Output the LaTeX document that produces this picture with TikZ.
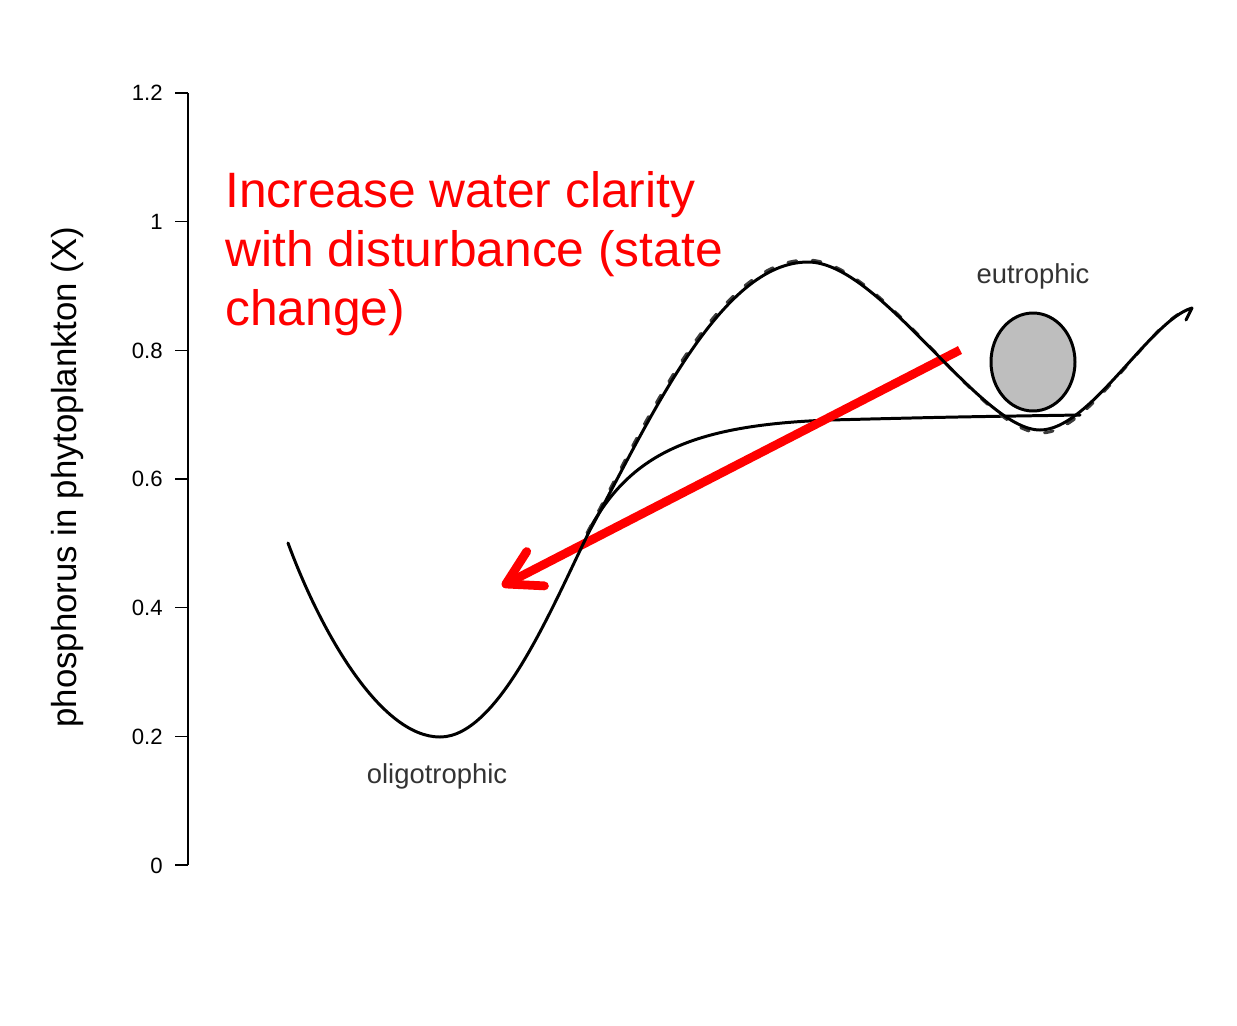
\documentclass[tikz,border=0pt]{standalone}
\usepackage{fontspec}
\setmainfont{Liberation Sans}
\usetikzlibrary{arrows.meta}
\definecolor{ballgray}{RGB}{190,190,190}
\definecolor{dashgray}{RGB}{60,60,60}
\definecolor{arrowred}{RGB}{255,0,0}
\begin{document}
\begin{tikzpicture}[x=0.02cm, y=-0.02cm,
  curve/.style={line width=1.7pt, line cap=round, line join=round},
  ticklab/.style={anchor=base east, inner sep=0pt, font=\fontsize{12.6}{15}\selectfont},
  statelab/.style={anchor=base, inner sep=0pt, text=black!80, font=\fontsize{15.6}{18}\selectfont},
  redarrow/.style={arrowred, line width=5pt,
    -{Straight Barb[length=19pt, width=22pt, line cap=round, line join=round]}}]
  \useasboundingbox (0,0) rectangle (1237,1025);
  % eje vertical con marcas
  \draw[line width=0.9pt] (188,93) -- (188,865);
  \foreach \v [count=\i from 0] in {0,0.2,0.4,0.6,0.8,1,1.2} {
    \draw[line width=0.9pt] (175,{865-128.67*\i}) -- (188,{865-128.67*\i});
    \node[ticklab] (t\i) at (163,{873-128.67*\i}) {\v};
  }
  \node[rotate=90, inner sep=0pt, font=\fontsize{19.8}{23}\selectfont] (ylab) at (68,477)
    {phosphorus in phytoplankton (X)};
  % curva que se aplana
  \draw[curve] (589,530) .. controls (630,455) and (690,425) .. (830,420)
    .. controls (950,417) .. (1080,415);
  % flecha roja
  \coordinate (from) at (960,350);
  \coordinate (to) at (502,586);
  \draw[redarrow] (from) -- (to);
  % curva discontinua
  \draw[curve, dashgray, dash pattern=on 5pt off 9pt]
    (587,533) .. controls (647,421) and (718,260) .. (807,260)
    .. controls (882,260) and (981,433) .. (1041,433)
    .. controls (1090,433) and (1149,321) .. (1189,309);
  % curva principal
  \draw[curve] (288,543) .. controls (320,630) and (380,737) .. (440,737)
    .. controls (500,737) and (555,600) .. (590,530)
    .. controls (650,420) and (720,262) .. (808,262)
    .. controls (880,262) and (980,430) .. (1040,430)
    .. controls (1090,430) and (1150,320) .. (1192,308) -- (1186,320);
  % bola
  \draw[line width=1.7pt, fill=ballgray] (1033,362) ellipse [x radius=0.84cm, y radius=0.98cm];
  % textos
  \node[statelab] (eu) at (1033,283) {eutrophic};
  \node[statelab] (oligo) at (437,783) {oligotrophic};
  \node[anchor=north west, inner sep=0pt, align=left, text=arrowred,
    font=\fontsize{28.3}{33.7}\selectfont] (note) at (225,171)
    {Increase water clarity\\with disturbance (state\\change)};
\end{tikzpicture}
\end{document}
